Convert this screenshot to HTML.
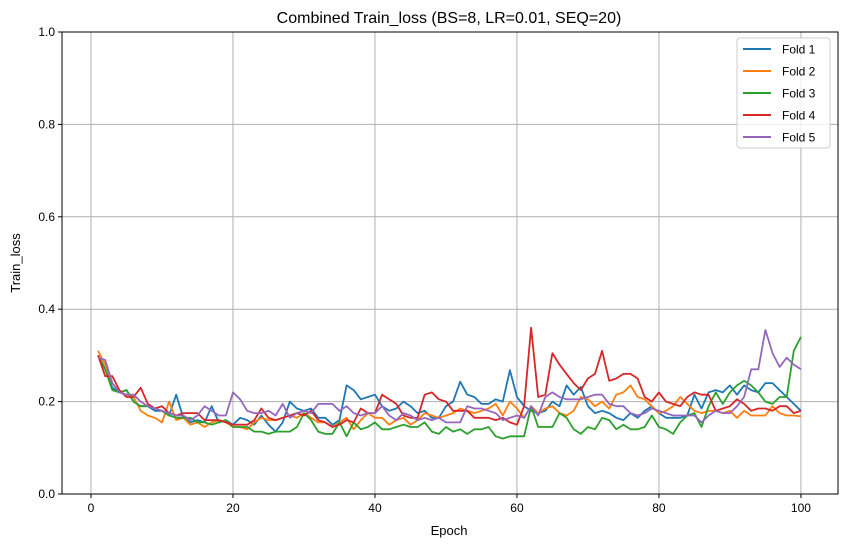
<!DOCTYPE html>
<html><head><meta charset="utf-8"><style>
body{margin:0;background:#fff;font-family:"Liberation Sans","DejaVu Sans",sans-serif}
svg text{font-family:"Liberation Sans","DejaVu Sans",sans-serif;fill:#000}
</style></head><body>
<svg id="c" width="846" height="547" xmlns="http://www.w3.org/2000/svg">
<rect width="846" height="547" fill="#fff"/>
<text x="449" y="23" font-size="16" text-anchor="middle">Combined Train_loss (BS=8, LR=0.01, SEQ=20)</text>
<text x="449" y="535" font-size="13" text-anchor="middle">Epoch</text>
<text x="20" y="263" font-size="13" text-anchor="middle" transform="rotate(-90 20 263)">Train_loss</text>
<g id="grid"></g><g id="series"></g>
<rect x="62" y="32" width="776" height="462" fill="none" stroke="#000" stroke-width="1"/>
<g id="legend"></g>
</svg>
<script>
const xTicks=[0,20,40,60,80,100];
const yTicks=[0.0,0.2,0.4,0.6,0.8,1.0];
const seriesNames=["Fold 1","Fold 2","Fold 3","Fold 4","Fold 5"];
const colors=["#1f77b4","#ff7f0e","#2ca02c","#d62728","#9467bd"];
const fold1=[.30,.27,.23,.22,.225,.20,.19,.19,.18,.18,.17,.215,.165,.155,.16,.155,.19,.155,.16,.15,.165,.16,.15,.17,.15,.135,.155,.20,.185,.18,.185,.165,.165,.15,.16,.235,.225,.205,.21,.215,.19,.18,.185,.20,.19,.175,.18,.165,.165,.19,.20,.243,.215,.21,.195,.195,.205,.20,.268,.21,.19,.18,.175,.18,.20,.19,.235,.215,.232,.19,.175,.18,.175,.165,.16,.175,.165,.18,.19,.175,.165,.165,.165,.17,.215,.185,.22,.225,.22,.235,.215,.235,.225,.22,.24,.24,.225,.21,.195,.18];
const fold2=[.31,.28,.24,.22,.215,.21,.18,.17,.165,.155,.20,.16,.165,.15,.155,.145,.155,.16,.155,.145,.145,.14,.155,.165,.16,.16,.165,.17,.165,.175,.165,.155,.155,.145,.155,.165,.14,.16,.175,.165,.165,.15,.16,.165,.15,.16,.175,.17,.165,.17,.175,.185,.18,.175,.18,.185,.195,.17,.20,.185,.165,.19,.175,.185,.19,.175,.17,.18,.21,.205,.19,.20,.185,.215,.22,.235,.21,.205,.19,.175,.18,.19,.21,.195,.18,.175,.18,.18,.175,.18,.165,.18,.17,.17,.17,.19,.175,.17,.17,.168];
const fold3=[.30,.27,.225,.22,.225,.20,.19,.19,.185,.18,.17,.165,.165,.165,.155,.155,.15,.155,.16,.145,.145,.145,.135,.135,.13,.135,.135,.135,.145,.175,.16,.135,.13,.13,.155,.125,.155,.14,.145,.155,.14,.14,.145,.15,.145,.145,.155,.135,.13,.145,.135,.14,.13,.14,.14,.145,.125,.12,.125,.125,.125,.19,.145,.145,.145,.175,.165,.14,.13,.145,.14,.165,.16,.14,.15,.14,.14,.145,.17,.145,.14,.13,.155,.17,.175,.145,.19,.22,.195,.22,.235,.245,.235,.22,.20,.195,.21,.21,.31,.34];
const fold4=[.30,.255,.255,.225,.21,.21,.23,.195,.185,.19,.175,.17,.175,.175,.175,.16,.16,.16,.155,.15,.15,.15,.16,.185,.165,.16,.165,.17,.175,.17,.18,.16,.155,.145,.15,.16,.155,.185,.175,.175,.215,.205,.195,.17,.165,.165,.215,.22,.205,.2,.18,.18,.18,.165,.165,.165,.16,.165,.155,.15,.19,.36,.21,.215,.305,.28,.26,.24,.225,.25,.26,.31,.245,.25,.26,.26,.25,.21,.20,.22,.20,.195,.19,.21,.22,.215,.215,.18,.185,.19,.205,.195,.18,.185,.185,.18,.19,.19,.175,.18];
const fold5=[.295,.29,.24,.22,.215,.215,.20,.19,.185,.18,.175,.17,.17,.16,.17,.19,.18,.17,.17,.22,.205,.18,.175,.175,.18,.17,.195,.165,.175,.18,.175,.195,.195,.195,.18,.19,.175,.17,.175,.175,.19,.17,.16,.175,.17,.16,.165,.16,.165,.155,.155,.155,.19,.185,.185,.18,.175,.16,.165,.17,.165,.19,.17,.21,.22,.21,.205,.205,.205,.21,.215,.215,.195,.19,.19,.175,.17,.175,.185,.18,.175,.17,.17,.17,.17,.155,.17,.18,.175,.175,.19,.21,.27,.27,.355,.305,.275,.295,.28,.27];
const allSeries=[fold1,fold2,fold3,fold4,fold5];
const NS="http://www.w3.org/2000/svg";
const L=62,R=838,T=32,B=494;
const xMin=-4.08,xMax=105.22;
function xs(v){return L+(v-xMin)/(xMax-xMin)*(R-L);}
function ys(v){return B-v*(B-T);}
function mk(tag,attrs,parent){const e=document.createElementNS(NS,tag);for(const k in attrs)e.setAttribute(k,attrs[k]);parent.appendChild(e);return e;}
const grid=document.getElementById('grid'),svg=document.getElementById('c');
xTicks.forEach(t=>{const x=xs(t);
 const g=mk('line',{x1:x,x2:x,y1:T,y2:B,stroke:'#b0b0b0','stroke-width':1},grid);
 
 
 const tk=mk('line',{x1:x,x2:x,y1:B,y2:B+4,stroke:'#000'},grid);
 
 
 const tx=mk('text',{x:x,y:B+18,'font-size':12,'text-anchor':'middle'},grid);tx.textContent=t;
 
 });
yTicks.forEach(t=>{const y=ys(t);
 const g=mk('line',{x1:L,x2:R,y1:y,y2:y,stroke:'#b0b0b0','stroke-width':1},grid);
 
 
 const tk=mk('line',{x1:L-4,x2:L,y1:y,y2:y,stroke:'#000'},grid);
 
 
 const tx=mk('text',{x:L-7,y:y+4,'font-size':12,'text-anchor':'end'},grid);tx.textContent=t.toFixed(1);
 
 });
const sg=document.getElementById('series');
allSeries.forEach((s,i)=>{const pts=s.map((v,j)=>xs(j+1).toFixed(1)+','+ys(v).toFixed(1)).join(' ');
 const p=mk('polyline',{points:pts,fill:'none',stroke:colors[i],'stroke-width':1.8,'stroke-linejoin':'round'},sg);
 
 });
const lg=document.getElementById('legend');
const box=mk('rect',{x:737,y:38,width:93,height:110,rx:3,fill:'#fff','fill-opacity':0.8,stroke:'#ccc'},lg);


seriesNames.forEach((n,i)=>{const y=49+i*22;
 const g=mk('g',{},lg);
 
 
 mk('line',{x1:743,x2:771,y1:y,y2:y,stroke:colors[i],'stroke-width':2},g);
 const t=mk('text',{x:782,y:y+4.5,'font-size':12},g);t.textContent=n;});
</script>
</body></html>
